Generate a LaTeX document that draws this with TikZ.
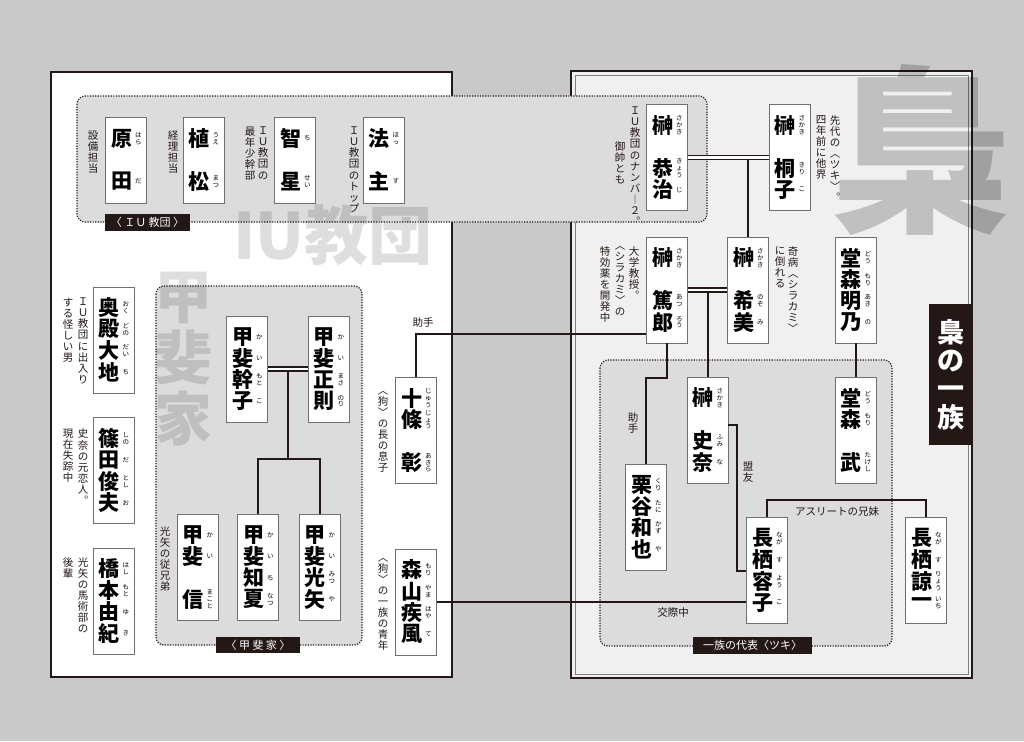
\documentclass[tikz,border=0pt]{standalone}
\usepackage{fontspec}
\setmainfont{Noto Sans CJK JP}
\usetikzlibrary{positioning,calc}
\definecolor{ink}{HTML}{231815}
\definecolor{paper}{HTML}{C9C9C9}
\definecolor{panelgray}{HTML}{F0F0F0}
\definecolor{groupgray}{HTML}{DCDCDC}
\definecolor{boxgray}{HTML}{707070}
\newcommand\namefont{\fontsize{21}{21}\selectfont\bfseries}
\newcommand\rubyfont{\fontsize{6.5}{6.5}\selectfont}
\newcommand\notefont{\fontsize{10.5}{10.5}\selectfont}
\newcommand\tagfont{\fontsize{11}{11}\selectfont}
\makeatletter
\def\vt@stop{\vt@stop}
\def\vt@stopm{\vt@stop}
\def\vt@#1{\def\vt@tmp{#1}\ifx\vt@tmp\vt@stopm\else\hbox to1em{\hss#1\hss}\expandafter\vt@\fi}
\newcommand\vt[1]{\vtop{\baselineskip=1.05em\lineskiplimit=-\maxdimen\vt@#1\vt@stop}}
\makeatother
\newcommand\nslot[2]{\hbox to31pt{\vbox to21.5pt{\vss\hbox to22pt{\hss\namefont#1\hss}\vss}\hss\vbox to21.5pt{\vss\rubyfont\vt{#2}\vss}}}
\newcommand\pname[1]{\vbox{\offinterlineskip#1}}

\begin{document}
\begin{tikzpicture}[x=1pt, y=-1pt,
	namebox/.style={draw=boxgray, line width=0.8pt, fill=white, inner sep=0pt, minimum width=41pt, minimum height=106pt},
	shortbox/.style={namebox, minimum height=86pt},
	note/.style={inner sep=0pt, anchor=north, text=ink, font=\notefont},
	label/.style={inner sep=0pt, text=ink, font=\notefont},
	tag/.style={fill=ink, text=white, inner sep=0pt, font=\tagfont},
	group/.style={fill=groupgray, draw=ink, line width=1.2pt, dash pattern=on 1.2pt off 1.4pt, rounded corners=8pt},
	wmark/.style={text=black, text opacity=0.13, inner sep=0pt},
	link/.style={draw=ink, line width=2pt},
	couple/.style={draw=ink, double=white, double distance=2.6pt, line width=1.4pt}]
	\useasboundingbox (0,0) rectangle (1024,741);
	\fill[paper] (0,0) rectangle (1024,741);
	\filldraw[fill=white, draw=ink, line width=2pt] (51,72) rectangle (452,677);
	\filldraw[fill=panelgray, draw=ink, line width=2pt] (571,71) rectangle (972,678);
	\draw[gray, line width=0.8pt] (575,75) rectangle (968,674);

	\path[group] (77,96) rectangle (707,222);
	\path[group] (156,286) rectangle (362,645);
	\path[group] (600,360) rectangle (892,646);

	\node[wmark, text opacity=0.2, font=\fontsize{180}{180}\selectfont\bfseries] (owlmark) at (920,150) {梟};
	\node[wmark, font=\fontsize{64}{64}\selectfont\bfseries] (iumark) at (333,235) {IU教団};
	\node[wmark, anchor=north, font=\fontsize{58}{58}\selectfont\bfseries] (kaimark) at (183,272) {\vt{甲斐家}};

	\node[shortbox] (harada) at (126,160) {\pname{\nslot{原}{はら}\nslot{}{}\nslot{田}{だ}}};
	\node[shortbox] (uematsu) [right of=harada, node distance=77.5pt] {\pname{\nslot{植}{うえ}\nslot{}{}\nslot{松}{まつ}}};
	\node[shortbox] (chisei) [right of=uematsu, node distance=91.5pt] {\pname{\nslot{智}{ち}\nslot{}{}\nslot{星}{せい}}};
	\node[shortbox] (hossu) [right of=chisei, node distance=88.5pt] {\pname{\nslot{法}{ほっ}\nslot{}{}\nslot{主}{す}}};

	\node[namebox] (kyoji) at (667,157.5) {\pname{\nslot{榊}{さかき}\nslot{}{}\nslot{恭}{きょう}\nslot{治}{じ}}};
	\node[namebox] (kiriko) [right of=kyoji, node distance=122.5pt] {\pname{\nslot{榊}{さかき}\nslot{}{}\nslot{桐}{きり}\nslot{子}{こ}}};
	\node[namebox] (atsuro) at (667,290) {\pname{\nslot{榊}{さかき}\nslot{}{}\nslot{篤}{あつ}\nslot{郎}{ろう}}};
	\node[namebox] (nozomi) [right of=atsuro, node distance=81pt] {\pname{\nslot{榊}{さかき}\nslot{}{}\nslot{希}{のぞ}\nslot{美}{み}}};
	\node[namebox] (akino) [right of=nozomi, node distance=107.5pt] {\pname{\nslot{堂}{どう}\nslot{森}{もり}\nslot{明}{あき}\nslot{乃}{の}}};
	\node[namebox] (takeshi) [below of=akino, node distance=140pt] {\pname{\nslot{堂}{どう}\nslot{森}{もり}\nslot{}{}\nslot{武}{たけし}}};
	\node[namebox] (fumina) at (707.5,430) {\pname{\nslot{榊}{さかき}\nslot{}{}\nslot{史}{ふみ}\nslot{奈}{な}}};
	\node[namebox] (kuritani) at (646,517) {\pname{\nslot{栗}{くり}\nslot{谷}{たに}\nslot{和}{かず}\nslot{也}{や}}};
	\node[namebox] (yoko) at (767,570.5) {\pname{\nslot{長}{なが}\nslot{栖}{す}\nslot{容}{よう}\nslot{子}{こ}}};
	\node[namebox] (ryoichi) [right of=yoko, node distance=159pt] {\pname{\nslot{長}{なが}\nslot{栖}{す}\nslot{諒}{りょう}\nslot{一}{いち}}};

	\node[namebox] (jujo) at (416,430.5) {\pname{\nslot{十}{じゅう}\nslot{條}{じょう}\nslot{}{}\nslot{彰}{あきら}}};
	\node[namebox] (moriyama) [below of=jujo, node distance=171.5pt] {\pname{\nslot{森}{もり}\nslot{山}{やま}\nslot{疾}{はや}\nslot{風}{て}}};

	\node[namebox] (okudono) at (113.5,340) {\pname{\nslot{奥}{おく}\nslot{殿}{どの}\nslot{大}{だい}\nslot{地}{ち}}};
	\node[namebox] (shinoda) [below of=okudono, node distance=130.5pt] {\pname{\nslot{篠}{しの}\nslot{田}{だ}\nslot{俊}{とし}\nslot{夫}{お}}};
	\node[namebox] (hashimoto) [below of=shinoda, node distance=130.5pt] {\pname{\nslot{橋}{はし}\nslot{本}{もと}\nslot{由}{ゆ}\nslot{紀}{き}}};

	\node[namebox] (motoko) at (247,369) {\pname{\nslot{甲}{か}\nslot{斐}{い}\nslot{幹}{もと}\nslot{子}{こ}}};
	\node[namebox] (masanori) [right of=motoko, node distance=81.5pt] {\pname{\nslot{甲}{か}\nslot{斐}{い}\nslot{正}{まさ}\nslot{則}{のり}}};
	\node[namebox] (makoto) at (197.5,567) {\pname{\nslot{甲}{か}\nslot{斐}{い}\nslot{}{}\nslot{信}{まこと}}};
	\node[namebox] (chinatsu) [right of=makoto, node distance=60.5pt] {\pname{\nslot{甲}{か}\nslot{斐}{い}\nslot{知}{ち}\nslot{夏}{なつ}}};
	\node[namebox] (mitsuya) [right of=chinatsu, node distance=61.5pt] {\pname{\nslot{甲}{か}\nslot{斐}{い}\nslot{光}{みつ}\nslot{矢}{や}}};

	\node[note] (harada-n) at (93,131) {\vt{設備担当}};
	\node[note] (uematsu-n) at (173,130) {\vt{経理担当}};
	\node[note] (chisei-n1) at (263,127) {\vt{ＩＵ教団の}};
	\node[note] (chisei-n2) at (250,127) {\vt{最年少幹部}};
	\node[note] (hossu-n) at (354,127) {\vt{ＩＵ教団のトップ}};
	\node[note] (kyoji-n1) at (635,107) {\vt{ＩＵ教団のナンバ︱２︒}};
	\node[note] (kyoji-n2) at (620,141) {\vt{御帥とも}};
	\node[note] (kiriko-n1) at (835,115) {\vt{先代の︿ツキ﹀︒}};
	\node[note] (kiriko-n2) at (821,115) {\vt{四年前に他界}};
	\node[note] (atsuro-n1) at (634,246) {\vt{大学教授︒}};
	\node[note] (atsuro-n2) at (620,246) {\vt{︿シラカミ﹀の}};
	\node[note] (atsuro-n3) at (605,246) {\vt{特効薬を開発中}};
	\node[note] (nozomi-n1) at (793,246) {\vt{奇病︿シラカミ﹀}};
	\node[note] (nozomi-n2) at (780,246) {\vt{に倒れる}};
	\node[note] (jujo-n) at (383,391) {\vt{︿狗﹀の長の息子}};
	\node[note] (moriyama-n) at (383,558) {\vt{︿狗﹀の一族の青年}};
	\node[note] (okudono-n1) at (83,298) {\vt{ＩＵ教団に出入り}};
	\node[note] (okudono-n2) at (68,298) {\vt{する怪しい男}};
	\node[note] (shinoda-n1) at (83,429) {\vt{史奈の元恋人︒}};
	\node[note] (shinoda-n2) at (68,429) {\vt{現在失踪中}};
	\node[note] (hashimoto-n1) at (83,557) {\vt{光矢の馬術部の}};
	\node[note] (hashimoto-n2) at (68,557) {\vt{後輩}};
	\node[note] (makoto-n) at (165,526) {\vt{光矢の従兄弟}};

	\draw[link] (nozomi.north) -- (nozomi.north |- kiriko.west);
	\draw[couple] (kyoji) -- (kiriko);
	\draw[link] ($(atsuro.east)!.5!(nozomi.west)$) -- (fumina.north);
	\draw[couple] (atsuro) -- (nozomi);
	\path[link] (akino) edge (takeshi);
	\draw[link] (atsuro.south) -- ++(0,35) -| (kuritani.north);
	\draw[link] (jujo.north) |- ([yshift=9pt]atsuro.south west);
	\draw[link] ([yshift=5pt]fumina.east) -- ++(9,0) |- (yoko.west);
	\draw[link] (yoko.north) -- ++(0,-17) -| (ryoichi.north);
	\draw[link] (moriyama.east) -- (moriyama.east -| yoko.west);
	\draw[link] ($(motoko.east)!.5!(masanori.west)$) -- ++(0,90) coordinate (kaifork) -| (chinatsu.north);
	\draw[link] (kaifork) -| (mitsuya.north);
	\draw[couple] (motoko) -- (masanori);

	\node[label] (jujo-l) at (423,323) {助手};
	\node[label] (kuritani-l) at (633,423) {\vt{助手}};
	\node[label] (yoko-l) at (748,472) {\vt{盟友}};
	\node[label] (sibling-l) at (837,512) {アスリートの兄妹};
	\node[label] (dating-l) at (673,613) {交際中};

	\node[tag, minimum width=85pt, minimum height=17pt] (iu-tag) at (147.5,222.5) {〈 ＩＵ 教団 〉};
	\node[tag, minimum width=84pt, minimum height=16pt] (kai-tag) at (258,645) {〈 甲 斐 家 〉};
	\node[tag, minimum width=119pt, minimum height=17pt] (tsuki-tag) at (752.5,645.5) {一族の代表〈ツキ〉};
	\node[tag, minimum width=44pt, minimum height=141pt, font=\fontsize{27}{27}\selectfont\bfseries] (owl-title) at (951,374.5) {\vt{梟の一族}};
\end{tikzpicture}
\end{document}
